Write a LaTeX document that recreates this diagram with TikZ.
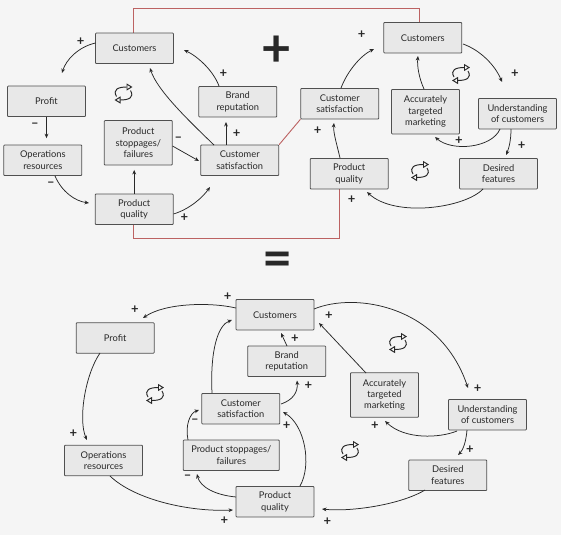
\documentclass[tikz,border=0pt]{standalone}
\usepackage{fontspec}
\setmainfont{Lato}
\usetikzlibrary{arrows.meta,calc,backgrounds}
\definecolor{bg}{RGB}{245,245,245}
\definecolor{boxfill}{RGB}{232,232,232}
\definecolor{boxline}{RGB}{80,80,80}
\definecolor{ink}{RGB}{40,40,40}
\definecolor{redl}{RGB}{188,98,98}
\begin{document}
\begin{tikzpicture}[x=1pt,y=-1pt,
 box/.style={draw=boxline,fill=boxfill,line width=0.8pt,rounded corners=0.8pt,minimum width=78pt,minimum height=30.5pt,inner sep=1pt,align=center,text=ink,font=\fontsize{9.3}{11.4}\selectfont},
 tall/.style={box,minimum width=68pt,minimum height=44.5pt},
 conn/.style={draw=ink,line width=0.75pt,-{Stealth[length=4.5pt,width=3.8pt]}},
 pl/.style={text=ink,font=\fontsize{13}{13}\bfseries\selectfont,inner sep=0pt},
 bigsym/.style={text=ink,font=\fontsize{52}{52}\bfseries\selectfont,inner sep=0pt},
 redline/.style={draw=redl,line width=0.9pt},
 loopicon/.pic={
   \draw[ink,line width=0.95pt,-{Triangle[open,length=6pt,width=7pt]}] (-7,3) .. controls (-11,-4) and (-5.5,-6.5) .. (9,-6.5);
   \draw[ink,line width=0.95pt,-{Triangle[open,length=6pt,width=7pt]}] (7,-3) .. controls (11,4) and (5.5,6.5) .. (-9,6.5);
 }
]
\useasboundingbox (0,0) rectangle (561,535);

% ---------- top left ----------
\node[box] (cusL) at (134.5,48.3) {Customers};
\node[box] (profT) at (46.5,101.3) {Profit};
\node[box] (opsT) at (42.8,160.3) {Operations\\resources};
\node[tall] (stopT) at (138.3,142.8) {Product\\stoppages/\\failures};
\node[box] (brandT) at (237.8,101.7) {Brand\\reputation};
\node[box] (csatL) at (239.7,160.3) {Customer\\satisfaction};
\node[box] (pqL) at (134.2,209.3) {Product\\quality};

% ---------- top right ----------
\node[box] (cusR) at (422.8,37.7) {Customers};
\node[box] (csatR) at (339.8,103.7) {Customer\\satisfaction};
\node[tall] (atmT) at (425.5,111.7) {Accurately\\targeted\\marketing};
\node[box] (undT) at (517.5,113.7) {Understanding\\of customers};
\node[box] (pqR) at (349.2,173.7) {Product\\quality};
\node[box] (desT) at (498.5,173.7) {Desired\\features};

% ---------- bottom ----------
\node[box] (cusB) at (275,314.7) {Customers};
\node[box] (profB) at (115.2,338) {Profit};
\node[box] (opsB) at (103.5,460.5) {Operations\\resources};
\node[box] (brandB) at (286.7,361.3) {Brand\\reputation};
\node[box] (csatB) at (240.8,408.7) {Customer\\satisfaction};
\node[box,minimum width=96pt] (stopB) at (231.3,455.3) {Product stoppages/\\failures};
\node[box] (pqB) at (275,501.7) {Product\\quality};
\node[tall] (atmB) at (384.5,395) {Accurately\\targeted\\marketing};
\node[box] (undB) at (487.5,414.7) {Understanding\\of customers};
\node[box] (desB) at (447.8,475.3) {Desired\\features};

% ---------- operators ----------
\node[bigsym] (plussign) at (276.5,51.7) {+};
\node[bigsym] (eqsign) at (277.5,264.2) {=};

% ---------- loop icons ----------
\pic at (123.5,93.5) {loopicon};
\pic at (461,74) {loopicon};
\pic at (420,171) {loopicon};
\pic at (155,394) {loopicon};
\pic at (398,343) {loopicon};
\pic at (350,451) {loopicon};

% ---------- connectors top left ----------
\draw[conn] ($(cusL)+(-39,-5.3)$) .. controls (78,47) and (66,60) .. ($(profT)+(15.5,-28.3)$);
\draw[conn] (profT.south) -- ($(opsT.north -| profT.south)+(0,-6.5)$);
\draw[conn] ($(opsT)+(12.2,15.7)$) .. controls (62,192) and (75,201) .. ($(pqL)+(-45.2,-6.3)$);
\draw[conn] (pqL.north) -- ($(stopT.south -| pqL.north)+(0,4.5)$);
\draw[conn] ($(stopT)+(34.2,3.2)$) -- ($(csatL)+(-40.7,0.7)$);
\draw[conn] ($(pqL)+(39.3,4.7)$) .. controls (190,209) and (203,197) .. ($(csatL)+(-29.7,26.7)$);
\draw[conn] ($(csatL)+(-25.7,-15.3)$) .. controls (188,120) and (157,90) .. ($(cusL)+(15.5,19.7)$);
\draw[conn] ($(csatL)+(-13.7,-15.3)$) -- ($(brandT)+(-11.8,20.3)$);
\draw[conn] ($(brandT)+(-18.8,-15.7)$) .. controls (213,70) and (197,56) .. ($(cusL)+(49.5,1.7)$);

% ---------- connectors top right ----------
\draw[conn] ($(csatR)+(1.2,-15.7)$) .. controls (347,72) and (360,56) .. ($(cusR)+(-48.8,11.3)$);
\draw[conn] ($(cusR)+(40.2,6.3)$) .. controls (480,50) and (495,65) .. ($(undT)+(-15.5,-31.7)$);
\draw[conn] ($(atmT)+(-1.5,-22.7)$) .. controls (419,78) and (417,66) .. ($(cusR)+(-4.8,18.3)$);
\draw[conn] ($(undT)+(-17.5,15.3)$) .. controls (492,148) and (452,152) .. ($(atmT)+(9.5,25.3)$);
\draw[conn] ($(undT)+(-6.5,15.3)$) .. controls (511,140) and (509,148) .. ($(desT)+(7.5,-18.7)$);
\draw[conn] ($(desT)+(-15.5,15.3)$) .. controls (465,208) and (395,218) .. ($(pqR)+(17.8,18.3)$);
\draw[conn] ($(pqR)+(-9.2,-15.7)$) .. controls (337,145) and (333,132) .. ($(csatR)+(-5.8,19.3)$);

% ---------- connectors bottom ----------
\draw[conn] ($(cusB)+(-39,-6.7)$) .. controls (210,302) and (165,303) .. ($(profB)+(27.8,-20)$);
\draw[conn] ($(profB)+(-15.2,15)$) .. controls (85,375) and (78,420) .. ($(opsB)+(-16.5,-20.5)$);
\draw[conn] ($(opsB)+(6.5,15.5)$) .. controls (135,500) and (190,512) .. ($(pqB)+(-42,8.3)$);
\draw[conn] ($(pqB)+(-39,-4.7)$) .. controls (215,495) and (200,487) .. ($(stopB)+(-34.3,18.7)$);
\draw[conn] ($(stopB)+(-43.3,-15.3)$) .. controls (185,425) and (190,413) .. ($(csatB)+(-41.8,1.3)$);
\draw[conn] ($(csatB)+(-28.8,-15.7)$) .. controls (210,350) and (218,325) .. ($(cusB)+(-43,5.3)$);
\draw[conn] ($(csatB)+(40.2,-4.7)$) .. controls (293,400) and (298,392) .. ($(brandB)+(10.3,19.2)$);
\draw[conn] ($(brandB)+(0.3,-15.3)$) -- ($(cusB)+(6,18.3)$);
\draw[conn] ($(pqB)+(25,-15.7)$) .. controls (312,465) and (305,425) .. ($(csatB)+(42.2,3.3)$);
\draw[conn] ($(cusB)+(39,-5.7)$) .. controls (355,292) and (440,305) .. ($(undB)+(-19.5,-26.7)$);
\draw[conn] ($(atmB)+(-18.5,-22)$) -- ($(cusB)+(44,8.3)$);
\draw[conn] ($(undB)+(-30.5,16.3)$) .. controls (440,438) and (405,440) .. ($(atmB)+(0.5,26)$);
\draw[conn] ($(undB)+(-20.5,15.3)$) .. controls (466,442) and (463,450) .. ($(desB)+(10.2,-20.3)$);
\draw[conn] ($(desB)+(-22.8,14.7)$) .. controls (400,505) and (350,512) .. ($(pqB)+(47,7.3)$);

% ---------- signs ----------
\node[pl] (s1) at (80.7,41.7) {+};
\node[pl] (s2) at (35,125) {–};
\node[pl] (s3) at (51,184.3) {–};
\node[pl] (s4) at (178.3,139.3) {–};
\node[pl] (s5) at (184.3,217.7) {+};
\node[pl] (s6) at (236.7,133.3) {+};
\node[pl] (s7) at (223.3,74) {+};
\node[pl] (s8) at (361.7,34.3) {+};
\node[pl] (s9) at (515,73.3) {+};
\node[pl] (s10) at (459,141) {+};
\node[pl] (s11) at (521.7,146) {+};
\node[pl] (s12) at (351.7,200) {+};
\node[pl] (s13) at (317.7,131) {+};
\node[pl] (s14) at (135,310) {+};
\node[pl] (s15) at (227.7,296.7) {+};
\node[pl] (s16) at (73.3,434) {+};
\node[pl] (s17) at (224.3,521) {+};
\node[pl] (s18) at (187.7,477.3) {–};
\node[pl] (s19) at (195,421.7) {–};
\node[pl] (s20) at (308.3,386) {+};
\node[pl] (s21) at (295,338.3) {+};
\node[pl] (s22) at (286.7,425.7) {+};
\node[pl] (s23) at (329,316) {+};
\node[pl] (s24) at (477.7,389) {+};
\node[pl] (s25) at (375,425.7) {+};
\node[pl] (s26) at (470,450) {+};
\node[pl] (s27) at (327.3,521.7) {+};

% ---------- background & red links ----------
\begin{scope}[on background layer]
 \fill[bg] (0,0) rectangle (561,535);
 \coordinate (ytop) at (0,8.5);
 \coordinate (ybot) at (0,238.5);
 \coordinate (rl1) at ($(cusL)+(-1.5,0)$);
 \coordinate (rr1) at ($(cusR)+(-3.8,0)$);
 \coordinate (rl2) at ($(pqL)+(-1.2,0)$);
 \coordinate (rr2) at ($(pqR)+(-10.2,0)$);
 \draw[redline] (rl1) -- (rl1 |- ytop) -| (rr1);
 \draw[redline] (rl2) -- (rl2 |- ybot) -| (rr2);
 \draw[redline] (csatL.north east) -- (csatR.south west);
\end{scope}
\end{tikzpicture}
\end{document}
